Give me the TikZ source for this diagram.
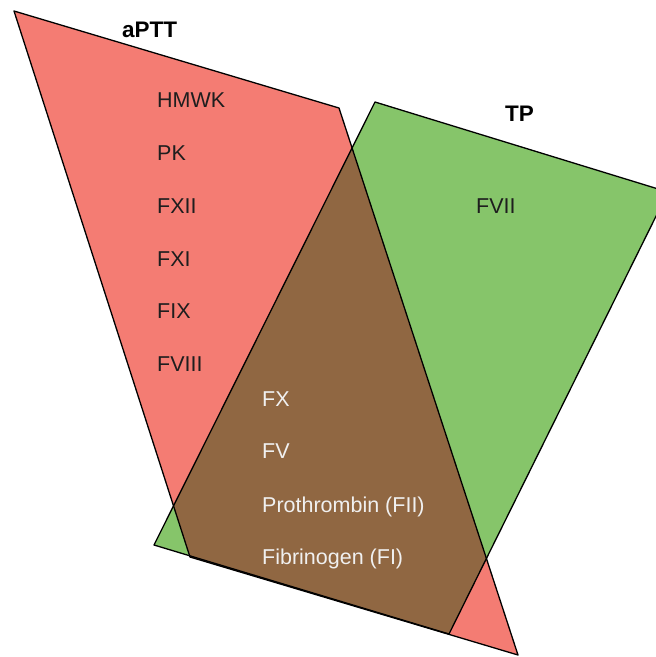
\documentclass[tikz,border=0pt]{standalone}
\usepackage{fontspec}
\setmainfont{Liberation Sans}
\usepackage{tikz}

\definecolor{apttred}{RGB}{244,124,115}
\definecolor{tpgreen}{RGB}{134,197,106}
\definecolor{bothbrown}{RGB}{144,103,66}
\definecolor{darktext}{RGB}{30,30,30}

\begin{document}
\begin{tikzpicture}[x=1pt,y=-1pt,
        outline/.style={draw=black,line width=1.3pt,line join=round},
        factor/.style={anchor=base west,inner sep=0pt,text=darktext,font=\fontsize{21.5}{25}\selectfont},
        common/.style={factor,text=white!94!black},
        testname/.style={anchor=base west,inner sep=0pt,text=black,font=\fontsize{22.5}{26}\selectfont\bfseries}]

    \useasboundingbox (0,0) rectangle (656,657);
    \clip (0,0) rectangle (656,657);

    % corners of the two tests
    \coordinate (r1) at (14,11);
    \coordinate (r2) at (339,108);
    \coordinate (r3) at (518,655);
    \coordinate (r4) at (190,557);
    \coordinate (g1) at (375,102);
    \coordinate (g2) at (668,192);
    \coordinate (g3) at (449,634);
    \coordinate (g4) at (154,545);

    \fill[tpgreen] (g1) -- (g2) -- (g3) -- (g4) -- cycle;
    \fill[apttred] (r1) -- (r2) -- (r3) -- (r4) -- cycle;
    \begin{scope}
        \clip (g1) -- (g2) -- (g3) -- (g4) -- cycle;
        \fill[bothbrown] (r1) -- (r2) -- (r3) -- (r4) -- cycle;
    \end{scope}
    \draw[outline] (g1) -- (g2) -- (g3) -- (g4) -- cycle;
    \draw[outline] (r1) -- (r2) -- (r3) -- (r4) -- cycle;

    \node[testname] (aptt) at (122,37) {aPTT};
    \node[testname] (tp) at (505,121.5) {TP};

    \node[factor] (hmwk) at (157,107) {HMWK};
    \node[factor] (pk) at (157,160) {PK};
    \node[factor] (fxii) at (157,213) {FXII};
    \node[factor] (fxi) at (157,266) {FXI};
    \node[factor] (fix) at (157,318) {FIX};
    \node[factor] (fviii) at (157,371) {FVIII};

    \node[factor] (fvii) at (476,213.5) {FVII};

    \node[common] (fx) at (262,406) {FX};
    \node[common] (fv) at (262,458) {FV};
    \node[common] (fii) at (262,512) {Prothrombin (FII)};
    \node[common] (fi) at (262,564.5) {Fibrinogen (FI)};
\end{tikzpicture}
\end{document}
